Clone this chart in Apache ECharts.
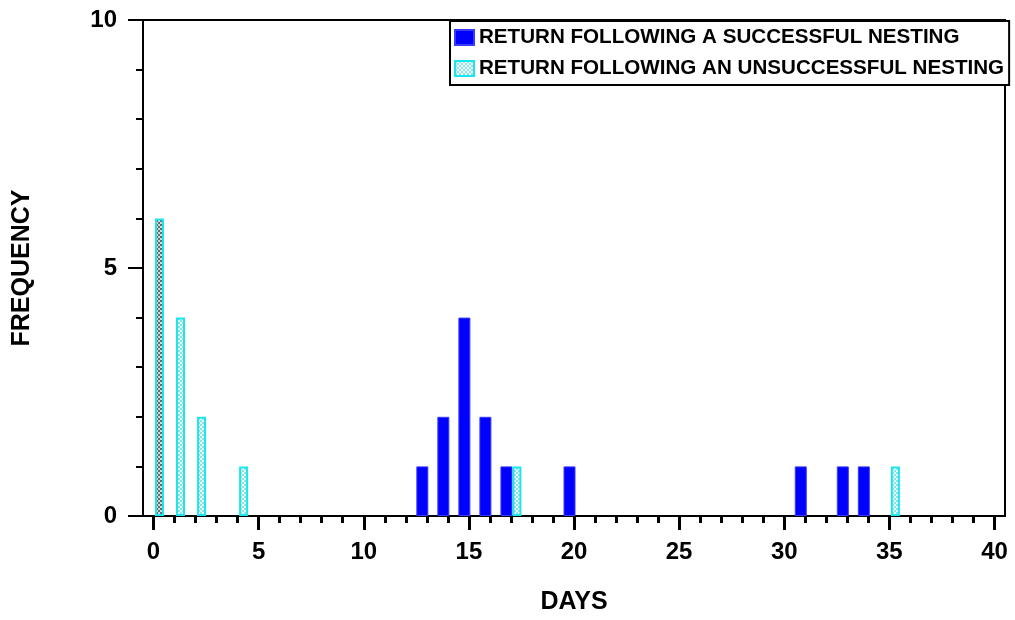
<!DOCTYPE html>
<html><head><meta charset="utf-8">
<script src="https://cdn.jsdelivr.net/npm/echarts@6/dist/echarts.min.js"></script>
<style>html,body{margin:0;padding:0;background:#fff}#c{width:1015px;height:620px}</style>
</head><body><div id="c"></div>
<script>
var days = [0,1,2,3,4,5,6,7,8,9,10,11,12,13,14,15,16,17,18,19,20,21,22,23,24,25,26,27,28,29,30,31,32,33,34,35,36,37,38,39,40];
var successful = [0,0,0,0,0,0,0,0,0,0,0,0,0,1,2,4,2,1,0,0,1,0,0,0,0,0,0,0,0,0,0,1,0,1,1,0,0,0,0,0,0];
var unsuccessful = [6,4,2,0,1,0,0,0,0,0,0,0,0,0,0,0,0,1,0,0,0,0,0,0,0,0,0,0,0,0,0,0,0,0,0,1,0,0,0,0,0];
var yTicks = [0,5,10];
var xLabelStep = 5;
var seriesNames = ['RETURN FOLLOWING A SUCCESSFUL NESTING','RETURN FOLLOWING AN UNSUCCESSFUL NESTING'];

function makePattern(a, b) {
  var cv = document.createElement('canvas');
  cv.width = 4; cv.height = 4;
  var g = cv.getContext('2d');
  g.fillStyle = b; g.fillRect(0,0,4,4);
  g.fillStyle = a;
  g.fillRect(0,0,2,2); g.fillRect(2,2,2,2);
  return cv;
}
var lightPat = {image: makePattern('#8fe3e6', '#f2fbfb'), repeat: 'repeat'};
var darkPat = {image: makePattern('#6a6a6a', '#d8d8d8'), repeat: 'repeat'};

var cats = days.map(String);
var font = '"Liberation Sans", Arial, sans-serif';

var chart = echarts.init(document.getElementById('c'), null, {renderer: 'canvas'});
chart.setOption({
  backgroundColor: '#fff',
  animation: false,
  grid: {left: 143, right: 10, top: 20, bottom: 101, show: true, borderColor: '#000', borderWidth: 2, backgroundColor: 'transparent'},
  legend: {
    orient: 'vertical', left: 450, top: 21,
    itemWidth: 19, itemHeight: 15, itemGap: 10,
    icon: 'rect',
    padding: [6, 5, 6, 4],
    borderColor: '#000', borderWidth: 2, backgroundColor: '#fff',
    textStyle: {fontFamily: font, fontWeight: 'bold', fontSize: 20.6, color: '#000'},
    data: seriesNames
  },
  xAxis: [{
    type: 'category', data: cats, boundaryGap: true,
    name: 'DAYS', nameLocation: 'middle', nameGap: 74,
    nameTextStyle: {fontFamily: font, fontWeight: 'bold', fontSize: 25, color: '#000'},
    axisLine: {show: true, lineStyle: {color: '#000', width: 2}},
    axisTick: {show: true, alignWithLabel: true, interval: xLabelStep - 1, length: 14, lineStyle: {color: '#000', width: 3}},
    axisLabel: {show: true, interval: xLabelStep - 1, margin: 24, fontFamily: font, fontWeight: 'bold', fontSize: 24, color: '#000'},
    splitLine: {show: false}
  }, {
    type: 'category', data: cats, boundaryGap: true, position: 'bottom',
    axisLine: {show: false},
    axisTick: {show: true, alignWithLabel: true, interval: 0, length: 7, lineStyle: {color: '#000', width: 3}},
    axisLabel: {show: false},
    splitLine: {show: false}
  }],
  yAxis: {
    type: 'value', min: yTicks[0], max: yTicks[yTicks.length - 1], interval: yTicks[1] - yTicks[0],
    name: 'FREQUENCY', nameLocation: 'middle', nameGap: 108, nameRotate: 90,
    nameTextStyle: {fontFamily: font, fontWeight: 'bold', fontSize: 25, color: '#000'},
    axisLine: {show: true, lineStyle: {color: '#000', width: 2}},
    axisTick: {show: true, length: 15, lineStyle: {color: '#000', width: 2}},
    minorTick: {show: true, splitNumber: 5, length: 7, lineStyle: {color: '#000', width: 2}},
    axisLabel: {margin: 26, fontFamily: font, fontWeight: 'bold', fontSize: 24, color: '#000'},
    splitLine: {show: false}
  },
  series: [{
    name: seriesNames[0], type: 'bar', xAxisIndex: 0,
    data: successful.map(function (v) { return v === 0 ? '-' : v; }),
    barWidth: 12, barGap: '0%',
    itemStyle: {color: '#0000ff', borderColor: '#3a3aff', borderWidth: 1}
  }, {
    name: seriesNames[1], type: 'bar', xAxisIndex: 0,
    data: unsuccessful.map(function (v, i) {
      if (v === 0) return '-';
      return i === 0 ? {value: v, itemStyle: {color: darkPat}} : v;
    }),
    barWidth: 9, barGap: '0%',
    itemStyle: {color: lightPat, borderColor: '#19e6ef', borderWidth: 2}
  }]
});
</script>
</body></html>
